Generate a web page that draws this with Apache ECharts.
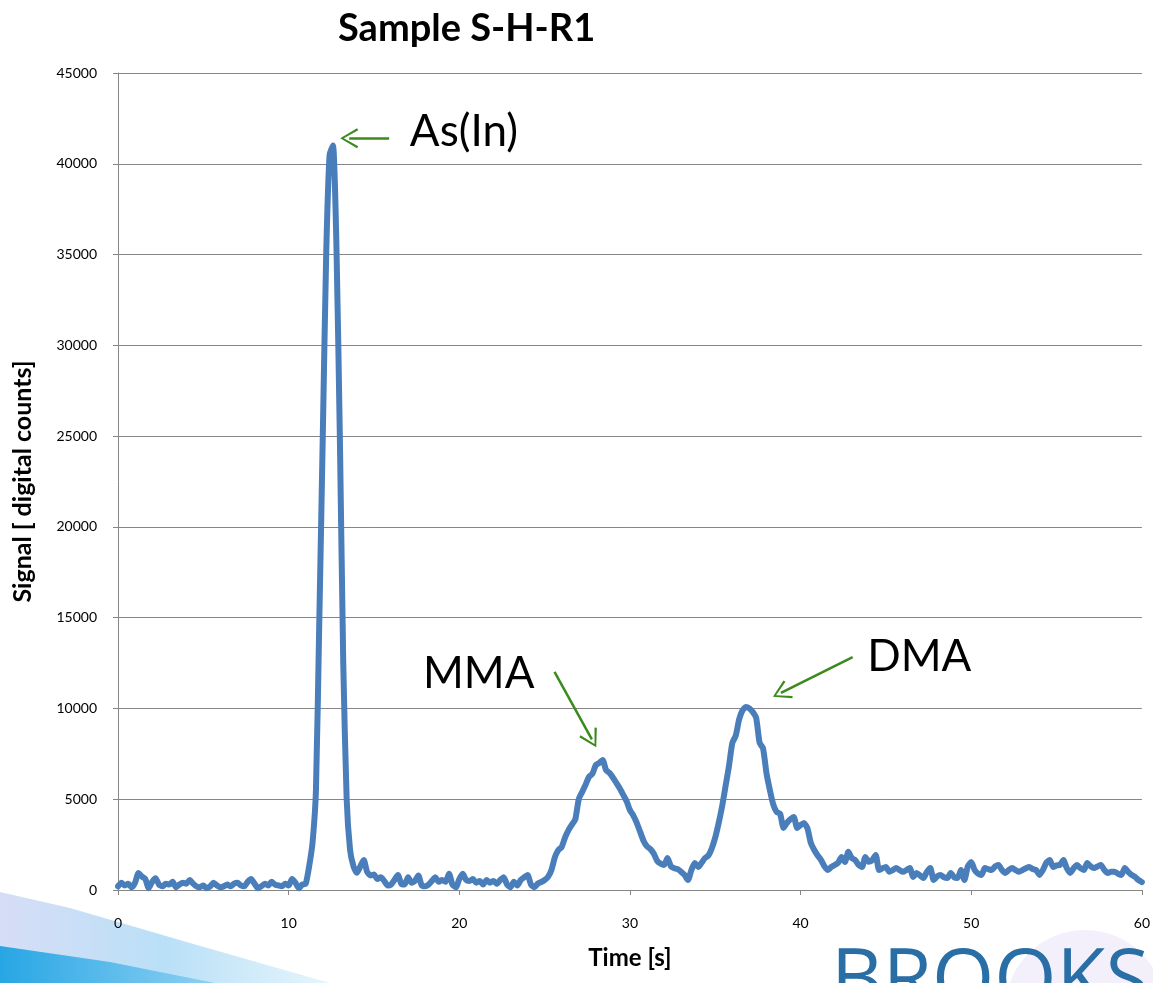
<!DOCTYPE html>
<html>
<head>
<meta charset="utf-8">
<title>Sample S-H-R1</title>
<script src="https://cdn.jsdelivr.net/npm/echarts@6/dist/echarts.min.js"></script>
<style>
  html, body { margin: 0; padding: 0; background: #fff; }
  #chart { width: 1153px; height: 983px; }
</style>
</head>
<body>
<div id="chart"></div>
<script>
// signal, one value every 0.2 s from 0 to 60 s
var TIME_STEP = 0.2;
var signal = [
  200, 400, 250, 350, 150, 400, 930, 750, 600, 100,
  450, 650, 300, 200, 350, 300, 450, 150, 300, 400,
  350, 550, 350, 200, 150, 250, 100, 200, 400, 250,
  150, 200, 300, 200, 350, 400, 250, 200, 450, 600,
  350, 100, 200, 350, 250, 450, 300, 250, 200, 350,
  250, 600, 400, 100, 300, 350, 1300, 2600, 5500, 15000,
  25000, 35000, 40500, 41000, 35500, 25000, 12500, 5000, 2200, 1300,
  950, 1300, 1650, 1000, 800, 850, 600, 700, 500, 250,
  300, 550, 830, 350, 300, 700, 400, 500, 800, 250,
  200, 300, 500, 700, 450, 550, 450, 900, 300, 150,
  600, 900, 550, 500, 600, 400, 500, 300, 550, 400,
  500, 350, 550, 700, 300, 150, 450, 250, 550, 700,
  830, 300, 150, 350, 440, 550, 720, 1100, 1800, 2200,
  2370, 2900, 3300, 3600, 3900, 5000, 5400, 5800, 6230, 6400,
  6880, 7000, 7160, 6600, 6450, 6200, 5900, 5600, 5250, 4900,
  4400, 4100, 3700, 3200, 2700, 2400, 2250, 2000, 1600, 1450,
  1380, 1760, 1300, 1200, 1150, 1000, 830, 550, 1100, 1490,
  1270, 1500, 1760, 1900, 2300, 2900, 3690, 4600, 5700, 6800,
  8100, 8500, 9400, 9900, 10080, 10000, 9800, 9470, 8100, 7800,
  6440, 5500, 4700, 4300, 4200, 3420, 3700, 3900, 4020, 3420,
  3580, 3690, 3400, 2590, 2200, 1900, 1650, 1300, 1100, 1270,
  1380, 1500, 1820, 1540, 2100, 1760, 1650, 1380, 1270, 1820,
  1550, 1650, 1930, 1100, 1200, 1270, 1000, 1100, 1210, 1100,
  1000, 1100, 1210, 720, 940, 800, 660, 1000, 1210, 550,
  750, 830, 700, 660, 940, 700, 660, 1100, 550, 1300,
  1540, 1100, 900, 830, 1210, 1150, 1100, 1300, 1380, 1100,
  940, 1100, 1210, 1100, 1000, 1100, 1200, 1270, 1150, 1100,
  830, 1100, 1500, 1650, 1270, 1350, 1380, 1650, 1200, 940,
  1200, 1380, 1200, 1100, 1490, 1300, 1210, 1300, 1380, 1100,
  940, 1000, 1000, 900, 830, 1210, 1000, 830, 720, 550,
  440
];

// peak labels and arrows (data coordinates)
var peakNames = ["As(In)", "MMA", "DMA"];
var peakLabelPos = [[20.27, 41750], [21.14, 11900], [46.96, 12830]];
var arrowFrom = [[15.89, 41400], [25.58, 12010], [43.05, 12830]];
var arrowTo = [[13.55, 41400], [27.77, 8300], [38.85, 10860]];

var xTicks = [0, 60, 10];
var yTicks = [0, 45000, 5000];

var myChart = echarts.init(document.getElementById("chart"));

function buildSeriesData() {
  return signal.map(function (v, i) {
    return [+(i * TIME_STEP).toFixed(1), v];
  });
}

var arrowHead = "path://M10,0 L20,17 L18,18.2 L10,3.6 L2,18.2 L0,17 Z";
var greenArrow = "#3b8a1c";
var font = "Lato, 'Open Sans', sans-serif";

var option = {
  animation: false,
  backgroundColor: "#ffffff",
  title: {
    text: "Sample S-H-R1",
    left: 333,
    top: 5,
    textStyle: {
      fontFamily: font,
      fontWeight: "bold",
      fontSize: 38,
      color: "#000",
    },
  },
  grid: {
    left: 118,
    right: 8,
    top: 73,
    bottom: 93,
  },
  xAxis: {
    type: "value",
    min: xTicks[0],
    max: xTicks[1],
    interval: xTicks[2],
    name: "Time [s]",
    nameLocation: "middle",
    nameGap: 56,
    nameTextStyle: {
      fontFamily: font,
      fontWeight: "bold",
      fontSize: 24,
      color: "#000",
    },
    axisLine: { lineStyle: { color: "#868686", width: 1 } },
    axisTick: { show: true, length: 5, lineStyle: { color: "#868686" } },
    axisLabel: { margin: 26, fontFamily: font, fontSize: 14, color: "#000" },
    splitLine: { show: false },
  },
  yAxis: {
    type: "value",
    min: yTicks[0],
    max: yTicks[1],
    interval: yTicks[2],
    name: "Signal [ digital counts]",
    nameLocation: "middle",
    nameGap: 83,
    nameTextStyle: {
      fontFamily: font,
      fontWeight: "bold",
      fontSize: 25,
      color: "#000",
    },
    axisLine: { show: true, lineStyle: { color: "#868686", width: 1 } },
    axisTick: { show: true, length: 5, lineStyle: { color: "#868686" } },
    axisLabel: {
      margin: 21,
      fontFamily: font,
      fontSize: 14,
      color: "#000",
      formatter: function (value) {
        return String(value);
      },
    },
    splitLine: { show: true, lineStyle: { color: "#868686", width: 1 } },
  },
  graphic: [
    {
      type: "polygon",
      silent: true,
      z: -1,
      shape: {
        points: [[0, 892], [70, 908], [190, 943], [330, 983], [0, 983]],
      },
      style: {
        fill: new echarts.graphic.LinearGradient(0, 0, 1, 0, [
          { offset: 0, color: "#d7ddf6" },
          { offset: 0.5, color: "#b9e0f7" },
          { offset: 1, color: "#e6f5fc" },
        ]),
      },
    },
    {
      type: "polygon",
      silent: true,
      z: -1,
      shape: {
        points: [[0, 946], [110, 962], [215, 983], [0, 983]],
      },
      style: {
        fill: new echarts.graphic.LinearGradient(0, 0, 1, 0, [
          { offset: 0, color: "#27a6e4" },
          { offset: 1, color: "#8fd0f2" },
        ]),
      },
    },
    {
      type: "circle",
      silent: true,
      z: -1,
      shape: { cx: 1085, cy: 1010, r: 80 },
      style: { fill: "rgba(214, 206, 245, 0.3)" },
    },
    {
      type: "text",
      silent: true,
      left: 831,
      top: 943,
      style: {
        text: "BROOKS",
        fontFamily: "'Open Sans', Lato, sans-serif",
        fontSize: 80,
        fill: "#2a6ea6",
      },
    },
  ],
  series: [
    {
      type: "line",
      data: buildSeriesData(),
      showSymbol: false,
      smooth: 0.2,
      color: "#4a7ebb",
      lineStyle: { width: 6, cap: "round", join: "round" },
      markLine: {
        silent: true,
        animation: false,
        symbol: ["none", arrowHead],
        symbolSize: [20, 18],
        lineStyle: { color: greenArrow, width: 2.5, type: "solid" },
        label: { show: false },
        data: arrowFrom.map(function (p, i) {
          return [{ coord: p }, { coord: arrowTo[i] }];
        }),
      },
      markPoint: {
        silent: true,
        animation: false,
        symbol: "circle",
        symbolSize: 0,
        itemStyle: { color: "transparent" },
        label: {
          show: true,
          position: "inside",
          fontFamily: font,
          fontSize: 44,
          color: "#000",
          formatter: function (p) {
            return p.name;
          },
        },
        data: peakNames.map(function (n, i) {
          return { name: n, coord: peakLabelPos[i] };
        }),
      },
    },
  ],
};

myChart.setOption(option);
window.addEventListener("resize", function () {
  myChart.resize();
});
</script>
</body>
</html>
